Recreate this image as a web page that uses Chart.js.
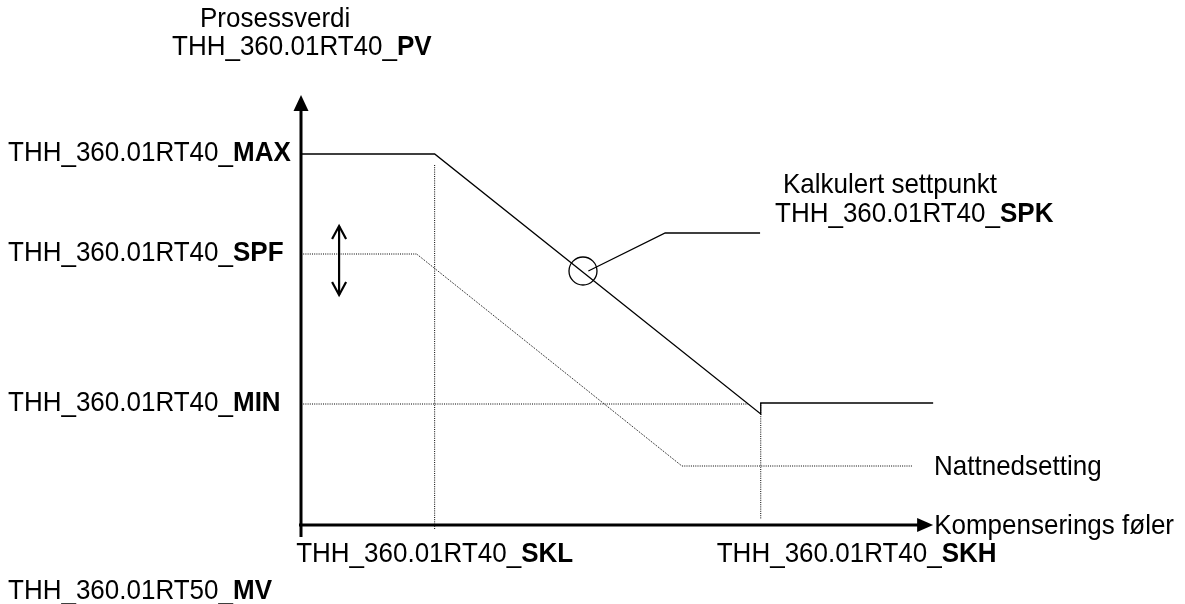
<!DOCTYPE html>
<html>
<head>
<meta charset="utf-8">
<title>Settpunkt kompensering</title>
<script src="https://cdn.jsdelivr.net/npm/chart.js@4.4.1/dist/chart.umd.min.js"></script>
<style>
    html, body { margin: 0; padding: 0; background: #fff; }
    #wrap { width: 1185px; height: 604px; }
</style>
</head>
<body>
<div id="wrap"><canvas id="diagram" width="1185" height="604"></canvas></div>
<script>
// x = kompensering foler (SKL, SKH), y = prosessverdi (MIN, SPF, MAX)
const tagPrefix = "THH_360.01RT40_";
const levelNames = ["MAX", "SPF", "MIN"];
const levelValues = [74.2, 54.2, 24.2];
const sensorNames = ["SKL", "SKH"];
const sensorValues = [20, 68.8];

// beregnet settpunkt (heltrukken)
const spkX = [0, 20, 68.8, 68.8, 94.6];
const spkY = [74.2, 74.2, 22.2, 24.4, 24.4];

// nattnedsetting (prikket)
const nightX = [0, 17.3, 57, 91.6];
const nightY = [54.2, 54.2, 11.8, 11.8];

// hjelpelinjer
const minLineX = [0, 66.9];
const sklLineY = [72, -0.8];
const skhLineY = [24.4, 1.2];

// markering og henvisning
const circleAt = [42.2, 50.8];
const leaderX = [43, 54.5, 68.7];
const leaderY = [50.8, 58.4, 58.4];
const shiftX = 5.7;
const shiftY = [59.8, 46];

// akser
const axisXEnd = 94.6;
const axisYEnd = 86;

const TEXT_FONT = "Liberation Sans, Arial, sans-serif";
const TEXT_SIZE = 26;
const Y_STRETCH = 1.07;

function pts(xs, ys) {
    return xs.map((x, i) => ({ x: x, y: ys[i] }));
}

function lineSet(data, opts) {
    return Object.assign({
        data: data,
        showLine: true,
        borderColor: "#000",
        borderWidth: 1.3,
        pointRadius: 0,
        fill: false,
        clip: false,
        tension: 0
    }, opts || {});
}

const dotted = { borderWidth: 1, borderDash: [1, 1.2], borderColor: "#000" };

// tekst med vanlig del + fet del
function drawTag(ctx, x, y, plain, bold, align) {
    ctx.save();
    ctx.font = TEXT_SIZE + "px " + TEXT_FONT;
    const w1 = ctx.measureText(plain).width;
    ctx.font = "bold " + TEXT_SIZE + "px " + TEXT_FONT;
    const w2 = bold ? ctx.measureText(bold).width : 0;
    let left = x;
    if (align === "right") left = x - w1 - w2;
    if (align === "center") left = x - (w1 + w2) / 2;
    ctx.translate(left, y);
    ctx.scale(1, Y_STRETCH);
    ctx.fillStyle = "#000";
    ctx.textBaseline = "alphabetic";
    ctx.font = TEXT_SIZE + "px " + TEXT_FONT;
    ctx.fillText(plain, 0, 0);
    if (bold) {
        ctx.font = "bold " + TEXT_SIZE + "px " + TEXT_FONT;
        ctx.fillText(bold, w1, 0);
    }
    ctx.restore();
}

const annotations = {
    id: "annotations",
    afterDatasetsDraw(chart) {
        const ctx = chart.ctx;
        const xs = chart.scales.x;
        const ys = chart.scales.y;
        const x0 = xs.getPixelForValue(0);
        const y0 = ys.getPixelForValue(0);

        ctx.save();
        ctx.fillStyle = "#000";
        // pil y-akse
        const yTop = ys.getPixelForValue(axisYEnd);
        ctx.beginPath();
        ctx.moveTo(x0, yTop);
        ctx.lineTo(x0 - 7.5, yTop + 16);
        ctx.lineTo(x0 + 7.5, yTop + 16);
        ctx.closePath();
        ctx.fill();
        // pil x-akse
        const xEnd = xs.getPixelForValue(axisXEnd);
        ctx.beginPath();
        ctx.moveTo(xEnd, y0);
        ctx.lineTo(xEnd - 16, y0 - 7);
        ctx.lineTo(xEnd - 16, y0 + 7);
        ctx.closePath();
        ctx.fill();

        // dobbeltpil (forskyvning)
        const ax = xs.getPixelForValue(shiftX);
        const aTop = ys.getPixelForValue(shiftY[0]);
        const aBot = ys.getPixelForValue(shiftY[1]);
        ctx.strokeStyle = "#000";
        ctx.lineWidth = 2.2;
        ctx.beginPath();
        ctx.moveTo(ax - 7, aTop + 13);
        ctx.lineTo(ax, aTop);
        ctx.lineTo(ax + 7, aTop + 13);
        ctx.moveTo(ax - 7, aBot - 13);
        ctx.lineTo(ax, aBot);
        ctx.lineTo(ax + 7, aBot - 13);
        ctx.stroke();
        ctx.restore();

        // tekster
        drawTag(ctx, 200, 27, "Prosessverdi", "", "left");
        drawTag(ctx, 172, 55, tagPrefix, "PV", "left");
        levelNames.forEach((name, i) => {
            drawTag(ctx, 8, ys.getPixelForValue(levelValues[i]) + 7, tagPrefix, name, "left");
        });
        drawTag(ctx, xs.getPixelForValue(sensorValues[0]), 562, tagPrefix, sensorNames[0], "center");
        drawTag(ctx, xs.getPixelForValue(sensorValues[1]) - 44, 562, tagPrefix, sensorNames[1], "left");
        drawTag(ctx, 8, 599, "THH_360.01RT50_", "MV", "left");
        drawTag(ctx, 783, 193, "Kalkulert settpunkt", "", "left");
        drawTag(ctx, 775, 222, tagPrefix, "SPK", "left");
        drawTag(ctx, 934, 475, "Nattnedsetting", "", "left");
        drawTag(ctx, xEnd + 1, y0 + 9, "Kompenserings føler", "", "left");
    }
};

const datasets = [
    // akser
    lineSet(pts([0, 0], [-2.4, axisYEnd - 2]), { borderWidth: 3 }),
    lineSet(pts([-0.3, axisXEnd - 2], [0, 0]), { borderWidth: 3 }),
    // hjelpelinjer
    lineSet(pts(minLineX, [levelValues[2], levelValues[2]]), dotted),
    lineSet(pts([sensorValues[0], sensorValues[0]], sklLineY), dotted),
    lineSet(pts([sensorValues[1], sensorValues[1]], skhLineY), dotted),
    // nattnedsetting
    lineSet(pts(nightX, nightY), dotted),
    // kalkulert settpunkt
    lineSet(pts(spkX, spkY)),
    // henvisning
    lineSet(pts(leaderX, leaderY)),
    {
        data: [{ x: circleAt[0], y: circleAt[1] }],
        pointRadius: 14,
        pointStyle: "circle",
        pointBorderColor: "#000",
        pointBorderWidth: 1.3,
        pointBackgroundColor: "rgba(0,0,0,0)",
        showLine: false,
        clip: false
    },
    // dobbeltpil skaft
    lineSet(pts([shiftX, shiftX], shiftY), { borderWidth: 2.2 })
];

new Chart(document.getElementById("diagram"), {
    type: "scatter",
    data: { datasets: datasets },
    plugins: [annotations],
    options: {
        responsive: false,
        animation: false,
        devicePixelRatio: 1,
        layout: { padding: { left: 301, right: 13, top: 25, bottom: 79 } },
        scales: {
            x: { type: "linear", min: 0, max: 130, display: false },
            y: { type: "linear", min: 0, max: 100, display: false }
        },
        plugins: {
            legend: { display: false },
            tooltip: { enabled: false }
        },
        events: []
    }
});
</script>
</body>
</html>
